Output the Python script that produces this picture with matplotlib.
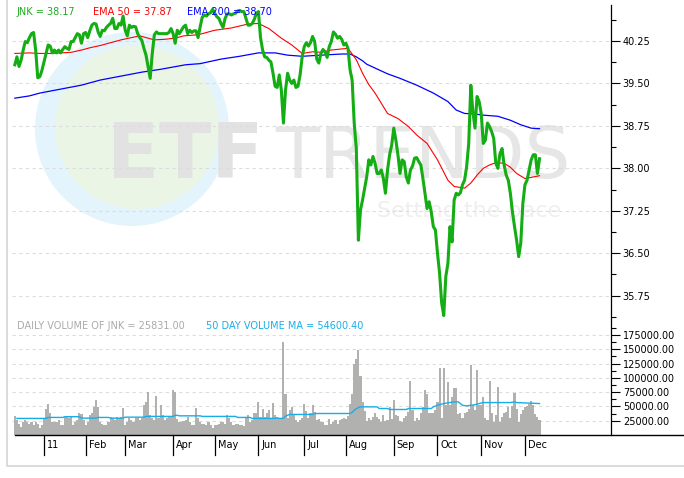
import numpy as np
import matplotlib
matplotlib.use("Agg")
import matplotlib.pyplot as plt
from matplotlib.patches import Circle
from matplotlib.lines import Line2D
from matplotlib import transforms

# ---- data (JNK, Dec 2010 - Dec 2011, one value per trading day) ----
close = [
    39.83, 39.97, 39.80, 39.91, 40.09, 40.24, 40.22, 40.31, 40.38, 40.40,
    40.09, 39.60, 39.62, 39.73, 39.88, 40.03, 40.18, 40.16, 40.04, 40.09,
    40.04, 40.09, 40.04, 40.10, 40.15, 40.12, 40.10, 40.24, 40.24, 40.31,
    40.38, 40.36, 40.21, 40.38, 40.40, 40.31, 40.43, 40.53, 40.56, 40.55,
    40.41, 40.33, 40.44, 40.43, 40.49, 40.53, 40.56, 40.65, 40.47, 40.47,
    40.56, 40.53, 40.69, 40.44, 40.34, 40.53, 40.49, 40.51, 40.50, 40.38,
    40.31, 40.26, 40.12, 40.00, 39.80, 39.59, 40.03, 40.36, 40.41, 40.38,
    40.38, 40.38, 40.38, 40.38, 40.40, 40.47, 40.38, 40.21, 40.44, 40.38,
    40.44, 40.50, 40.53, 40.38, 40.44, 40.40, 40.43, 40.43, 40.31, 40.50,
    40.67, 40.71, 40.69, 40.73, 40.75, 40.81, 40.74, 40.68, 40.65, 40.56,
    40.49, 40.65, 40.73, 40.73, 40.71, 40.73, 40.74, 40.78, 40.79, 40.77,
    40.77, 40.65, 40.53, 40.53, 40.56, 40.63, 40.74, 40.77, 40.31, 40.09,
    39.97, 39.96, 39.91, 39.88, 39.68, 39.45, 39.43, 39.65, 39.38, 38.80,
    39.38, 39.68, 39.56, 39.50, 39.56, 39.43, 39.45, 39.65, 39.97, 40.15,
    40.22, 40.16, 40.22, 40.33, 40.24, 39.93, 39.86, 40.03, 40.10, 40.06,
    39.96, 40.15, 40.24, 40.41, 40.37, 40.30, 40.33, 40.28, 40.18, 40.21,
    40.12, 39.74, 39.56, 38.80, 38.35, 36.73, 37.26, 37.44, 37.65, 37.85,
    38.15, 38.06, 38.21, 38.09, 37.91, 37.91, 37.97, 37.82, 37.56, 37.97,
    38.24, 38.41, 38.71, 38.50, 38.24, 37.91, 38.15, 38.12, 37.85, 37.74,
    37.97, 38.04, 38.18, 38.19, 38.12, 38.06, 37.82, 37.56, 37.29, 37.41,
    37.23, 36.97, 36.91, 36.50, 36.15, 35.62, 35.40, 36.09, 36.32, 36.97,
    36.70, 37.44, 37.56, 37.53, 37.57, 37.71, 37.79, 38.03, 38.44, 39.47,
    39.00, 38.71, 39.27, 39.18, 38.97, 38.44, 38.50, 38.80, 38.74, 38.65,
    38.53, 38.09, 38.00, 38.26, 38.35, 38.06, 37.88, 37.79, 37.56, 37.23,
    36.97, 36.73, 36.44, 36.68, 37.38, 37.71, 37.79, 37.97, 38.15, 38.24,
    38.24, 37.91, 38.17,
]

# daily volume, thousands of shares
volume = [
    34, 26, 20, 14, 23, 26, 23, 19, 23, 17,
    22, 20, 12, 17, 30, 46, 55, 38, 23, 23,
    23, 26, 17, 17, 32, 34, 29, 32, 17, 23,
    26, 39, 36, 26, 17, 23, 35, 38, 49, 62,
    49, 23, 20, 17, 17, 23, 32, 29, 26, 32,
    29, 32, 47, 17, 23, 29, 26, 23, 29, 32,
    26, 30, 53, 57, 75, 35, 29, 26, 68, 29,
    52, 35, 26, 29, 32, 34, 78, 75, 28, 23,
    23, 24, 26, 32, 23, 17, 17, 47, 29, 23,
    20, 20, 17, 23, 17, 12, 17, 17, 20, 22,
    23, 20, 35, 29, 22, 17, 20, 19, 17, 17,
    16, 29, 35, 23, 26, 38, 39, 57, 32, 46,
    32, 39, 43, 29, 56, 35, 32, 29, 28, 163,
    71, 29, 43, 49, 35, 26, 22, 26, 29, 54,
    42, 30, 38, 52, 41, 26, 28, 23, 22, 17,
    17, 28, 19, 23, 26, 19, 26, 28, 29, 28,
    34, 55, 72, 124, 133, 149, 104, 58, 42, 24,
    29, 26, 32, 39, 32, 28, 23, 35, 24, 26,
    49, 28, 61, 35, 34, 24, 23, 29, 34, 41,
    94, 43, 24, 29, 26, 38, 49, 78, 72, 39,
    38, 38, 43, 57, 117, 29, 117, 52, 93, 52,
    67, 82, 82, 36, 38, 29, 38, 41, 46, 123,
    52, 43, 113, 52, 52, 67, 29, 26, 95, 38,
    23, 35, 84, 23, 32, 39, 41, 49, 29, 51,
    74, 46, 23, 36, 43, 49, 50, 55, 59, 52,
    36, 32, 25.831,
]

# moving averages read at a few days (day index, value)
ema50_pts = [
    (0, 40.03), (7, 40.04), (12, 40.03), (17, 40.03), (22, 40.04), (27, 40.05),
    (32, 40.09), (36, 40.13), (41, 40.17), (46, 40.22), (51, 40.27), (56, 40.31),
    (60, 40.34), (63, 40.31), (67, 40.27), (72, 40.28), (77, 40.30), (81, 40.34),
    (88, 40.36), (96, 40.44), (104, 40.48), (112, 40.55), (117, 40.56), (122, 40.47),
    (128, 40.30), (133, 40.18), (138, 40.03), (143, 40.06), (147, 40.05), (152, 40.09),
    (157, 40.11), (160, 40.12), (164, 39.92), (167, 39.68), (170, 39.48), (173, 39.33),
    (179, 38.97), (184, 38.88), (189, 38.74), (193, 38.59), (198, 38.44), (203, 38.15),
    (208, 37.79), (211, 37.68), (216, 37.65), (219, 37.74), (222, 37.88), (225, 38.00),
    (228, 38.06), (231, 38.10), (235, 38.09), (238, 38.02), (241, 37.91), (245, 37.82),
    (248, 37.84), (252, 37.87),
]
ema200_pts = [
    (0, 39.24), (7, 39.28), (12, 39.33), (22, 39.40), (32, 39.47), (41, 39.56),
    (51, 39.63), (61, 39.70), (70, 39.75), (82, 39.83), (89, 39.85), (99, 39.93),
    (108, 39.98), (117, 40.04), (125, 40.04), (131, 40.00), (138, 39.98), (147, 40.00),
    (157, 40.02), (161, 40.02), (164, 39.97), (167, 39.90), (169, 39.84), (179, 39.67),
    (185, 39.59), (193, 39.47), (201, 39.33), (208, 39.18), (212, 39.03), (216, 38.97),
    (221, 38.96), (225, 38.94), (232, 38.92), (238, 38.85), (243, 38.77), (248, 38.71),
    (252, 38.70),
]
vol_ma_pts = [
    (1, 29.0), (15, 29.0), (16, 30.7), (23, 30.7), (24, 32.0), (31, 32.0),
    (32, 29.5), (39, 29.5), (40, 30.7), (45, 30.7), (46, 29.5), (52, 29.5),
    (53, 31.2), (62, 31.2), (63, 32.5), (76, 32.5), (77, 34.5), (78, 34.5),
    (79, 33.5), (89, 33.5), (90, 32.5), (106, 32.5), (107, 30.7), (113, 30.7),
    (114, 29.0), (125, 29.0), (126, 30.0), (127, 29.0), (129, 29.0), (130, 33.0),
    (132, 35.9), (143, 35.9), (144, 37.6), (161, 37.6), (162, 39.4), (163, 43.4),
    (165, 48.0), (166, 49.2), (174, 49.2), (175, 46.3), (179, 46.3), (180, 44.6),
    (188, 44.6), (189, 46.3), (200, 46.3), (201, 49.2), (203, 52.0), (206, 55.0),
    (211, 57.9), (213, 57.9), (215, 52.0), (217, 50.9), (221, 53.0), (223, 55.0),
    (225, 56.7), (238, 56.7), (240, 57.9), (241, 56.7), (252, 55.0),
]
vol_ma_last = 54600.40

month_labels = ["11", "Feb", "Mar", "Apr", "May", "Jun", "Jul", "Aug", "Sep", "Oct", "Nov", "Dec"]
month_days = [14, 34, 53, 76, 96, 117, 139, 159, 182, 203, 224, 245]

price_ticks = [35.75, 36.50, 37.25, 38.00, 38.75, 39.50, 40.25]
price_minor = [35.375, 36.125, 36.875, 37.625, 38.375, 39.125, 39.875, 40.625]
vol_ticks = [25000, 50000, 75000, 100000, 125000, 150000, 175000]
vol_minor = [37500, 62500, 87500, 112500, 137500, 162500, 187500]

# ---- layout in pixels ----
W, H = 684, 478
fig = plt.figure(figsize=(W / 100, H / 100), dpi=100)


def rect(x0, y0, x1, y1):
    return [x0 / W, 1 - y1 / H, (x1 - x0) / W, (y1 - y0) / H]


def ftext(x, y, s, color, **kw):
    fig.text(x / W, 1 - y / H, s, color=color, fontsize=7, va="center", ha="left", **kw)


# watermark + frame
bg = fig.add_axes([0, 0, 1, 1])
bg.set_xlim(0, W)
bg.set_ylim(H, 0)
bg.axis("off")
bg.add_patch(Circle((132, 129), 97, color="#e4f4fc", lw=0))
bg.add_patch(Circle((137, 127), 82, color="#eaf5e6", lw=0))
bg.text(107, 178, "ETF", fontsize=55, fontweight="bold", color="#e2e2e2", va="baseline")
bg.text(275, 178, "TRENDS", fontsize=52, color="#e6e6e6", va="baseline")
bg.text(377, 217, "Setting the pace", fontsize=16, color="#efefef", va="baseline")
bg.plot([7, 7, W + 2], [-2, 466, 466], color="#d4d4d4", lw=1.2, clip_on=False)

days = np.arange(len(close))
px_per_day = 2.082
x_first = 14.85
xlim = ((12 - x_first) / px_per_day, (611 - x_first) / px_per_day)

# price panel
ax = fig.add_axes(rect(12, 5, 611, 435))
ax.patch.set_visible(False)
ax.set_xlim(*xlim)
ax.set_ylim(40.25 - 394 * 0.75 / 42.45, 40.25 + 36 * 0.75 / 42.45)
for s in ["left", "top", "bottom"]:
    ax.spines[s].set_visible(False)
ax.spines["right"].set_linewidth(0.9)
ax.set_xticks([])
ax.yaxis.tick_right()
ax.set_yticks(price_ticks)
ax.set_yticks(price_minor, minor=True)
ax.set_yticklabels(["%.2f" % t for t in price_ticks])
ax.tick_params(axis="y", which="major", direction="out", length=6.5, width=0.8, pad=2, labelsize=7)
ax.tick_params(axis="y", which="minor", direction="out", length=3.6, width=0.8)
ax.grid(axis="y", which="major", color="#dcdcdc", linestyle=(0, (3, 3)), linewidth=0.8)

e50d, e50v = zip(*ema50_pts)
e200d, e200v = zip(*ema200_pts)
ax.plot(e200d, e200v, color="#0000ff", lw=0.9, zorder=3)
ax.plot(e50d, e50v, color="#ff0000", lw=0.8, zorder=3)
ax.plot(days, close, color="#14ad14", lw=2.2, zorder=4)

# volume panel
vax = fig.add_axes(rect(12, 318, 611, 435))
vax.patch.set_visible(False)
vax.set_xlim(*xlim)
vax.set_ylim(0, 117 / 14.3 * 25000)
for s in vax.spines.values():
    s.set_visible(False)
vax.set_xticks([])
vax.yaxis.tick_right()
vax.set_yticks(vol_ticks)
vax.set_yticks(vol_minor, minor=True)
vax.set_yticklabels(["%.2f" % t for t in vol_ticks])
vax.tick_params(axis="y", which="major", direction="out", length=6.5, width=0.8, pad=2, labelsize=7)
vax.tick_params(axis="y", which="minor", direction="out", length=3.6, width=0.8)
vax.grid(axis="y", which="major", color="#dcdcdc", linestyle=(0, (3, 3)), linewidth=0.8)

vax.bar(days, np.array(volume) * 1000, width=1.0, color="#b1b2af", lw=0, zorder=2)
mad, mav = zip(*vol_ma_pts)
vax.plot(mad, np.array(mav) * 1000, color="#17aee8", lw=1.0, zorder=3)

# date axis
base_y = 1 - 435 / H
fig.add_artist(Line2D([15 / W, 1], [base_y, base_y], transform=fig.transFigure, color="black", lw=1))
blend = transforms.blended_transform_factory(vax.transData, fig.transFigure)
lab_tr = transforms.offset_copy(blend, fig=fig, x=3, y=0, units="dots")
for d, lab in zip(month_days, month_labels):
    fig.add_artist(Line2D([d, d], [base_y, 1 - 455 / H], transform=blend, color="black", lw=0.9))
    fig.text(d, 1 - 445 / H, lab, transform=lab_tr, fontsize=7, ha="left", va="center")

# headers
ftext(16, 12, "JNK = %.2f" % close[-1], "#1faa1f")
ftext(93, 12, "EMA 50 = %.2f" % e50v[-1], "#ff0000")
ftext(187, 12, "EMA 200 = %.2f" % e200v[-1], "#0000ff")
ftext(17, 326, "DAILY VOLUME OF JNK = %.2f" % (volume[-1] * 1000), "#aaaaaa")
ftext(206, 326, "50 DAY VOLUME MA = %.2f" % vol_ma_last, "#19aeea")

fig.savefig("out.png", dpi=100)
